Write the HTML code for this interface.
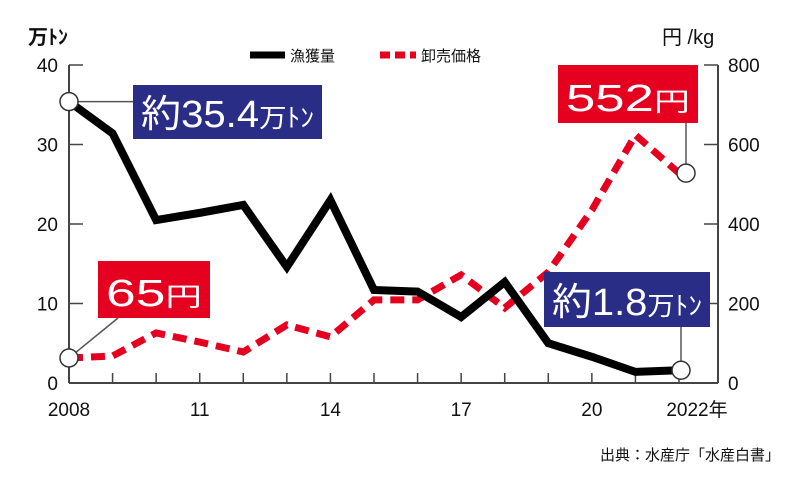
<!DOCTYPE html>
<html><head><meta charset="utf-8"><style>
body{margin:0;background:#fff;}
svg text{font-family:"Liberation Sans","Noto Sans CJK JP",sans-serif;}
</style></head><body>
<svg id="c" width="800" height="478" viewBox="0 0 800 478" xmlns="http://www.w3.org/2000/svg">
<g id="axes"></g>
<g id="marks"></g>
<g id="ann"></g>
</svg>
<script>
const years=[2008,2009,2010,2011,2012,2013,2014,2015,2016,2017,2018,2019,2020,2021,2022];
const catch10k=[35.4,31.4,20.5,21.4,22.4,14.6,23,11.7,11.5,8.3,12.7,5.0,3.3,1.4,1.6];
const price=[63,68,126,103,78,146,116,209,209,272,189,279,435,624,528];
const leftTicks=[0,10,20,30,40];
const rightTicks=[0,200,400,600,800];
const xTickLabels=[[2008,"2008"],[2011,"11"],[2014,"14"],[2017,"17"],[2020,"20"],[2022,"2022年"]];
const NS="http://www.w3.org/2000/svg";
const x0=69,x1=679,yb=383,yt=65;
const X=y=>x0+(y-2008)*(x1-x0)/14;
const YL=v=>yb-v*(yb-yt)/40;
const YR=v=>yb-v*(yb-yt)/800;
function mk(p,tag,at,txt){const e=document.createElementNS(NS,tag);for(const k in at)e.setAttribute(k,at[k]);if(txt!==undefined)e.textContent=txt;p.appendChild(e);return e;}
const A=document.getElementById('axes'),M=document.getElementById('marks'),N=document.getElementById('ann');
let e;
e=mk(A,'line',{x1:x0,y1:yt,x2:x0,y2:yb,stroke:'#444','stroke-width':2});


e=mk(A,'line',{x1:718,y1:yt,x2:718,y2:yb,stroke:'#444','stroke-width':2});


e=mk(A,'line',{x1:x0,y1:yb,x2:718,y2:yb,stroke:'#444','stroke-width':2});


leftTicks.forEach(t=>{mk(A,'line',{x1:x0,y1:YL(t),x2:x0+14,y2:YL(t),stroke:'#444','stroke-width':1.5});
 e=mk(A,'text',{x:58,y:YL(t)+7,'text-anchor':'end','font-size':19,fill:'#111'},String(t));
 
 });
rightTicks.forEach(t=>{mk(A,'line',{x1:704,y1:YR(t),x2:718,y2:YR(t),stroke:'#444','stroke-width':1.5});
 e=mk(A,'text',{x:728,y:YR(t)+7,'font-size':19,fill:'#111'},String(t));
 
 });
years.forEach(y=>mk(A,'line',{x1:X(y),y1:yb,x2:X(y),y2:yb-10,stroke:'#444','stroke-width':1.5}));
xTickLabels.forEach(([y,l])=>{e=mk(A,'text',{x:X(y)+(y==2022?18:0),y:416,'text-anchor':'middle','font-size':19,fill:'#111'},l);
 
 });
e=mk(M,'polyline',{points:years.map((y,i)=>X(y)+','+YR(price[i])).join(' '),fill:'none',stroke:'#e60020','stroke-width':7,'stroke-dasharray':'14 8'});


e=mk(M,'polyline',{points:years.map((y,i)=>X(y)+','+YL(catch10k[i])).join(' '),fill:'none',stroke:'#000','stroke-width':8,'stroke-linejoin':'miter'});


const n=years.length-1;
mk(N,'line',{x1:X(2008),y1:YL(catch10k[0]),x2:133,y2:YL(catch10k[0]),stroke:'#555','stroke-width':1.5});
mk(N,'line',{x1:X(2008),y1:YR(price[0]),x2:118,y2:318,stroke:'#555','stroke-width':1.5});
mk(N,'line',{x1:686,y1:YR(price[n]),x2:686,y2:123,stroke:'#555','stroke-width':1.5});
mk(N,'line',{x1:681,y1:YL(catch10k[n]),x2:681,y2:327,stroke:'#555','stroke-width':1.5});
[[X(2008),YL(catch10k[0]),'circle-start-catch'],[X(2008),YR(price[0]),'circle-start-price'],[686,YR(price[n]),'circle-end-price'],[681,YL(catch10k[n]),'circle-end-catch']].forEach(([cx,cy,nm])=>{
 e=mk(N,'circle',{cx:cx,cy:cy,r:9,fill:'#fff',stroke:'#333','stroke-width':1.5});
 
 });
function box(x,y,w,h,fill,main,unit,nm){
 const g=mk(N,'g',{});
 
 
 mk(g,'rect',{x:x,y:y,width:w,height:h,fill:fill});
 const t=mk(g,'text',{x:x+8,y:y+h-12,fill:'#fff','font-size':38,textLength:w-16,lengthAdjust:'spacingAndGlyphs'});
 mk(t,'tspan',{},main);
 if(unit){mk(t,'tspan',{'font-size':26},unit);}
}
box(133,85,189,54,'#2a2d86','約35.4','万ﾄﾝ','label-catch-2008');
box(558,65,140,58,'#e60020','552','円','label-price-2022');
box(98,261,112,57,'#e60020','65','円','label-price-2008');
box(544,272,166,55,'#2a2d86','約1.8','万ﾄﾝ','label-catch-2022');
e=mk(N,'line',{x1:250,y1:55,x2:285,y2:55,stroke:'#000','stroke-width':7});


e=mk(N,'text',{x:290,y:61,'font-size':15,fill:'#111'},'漁獲量');


e=mk(N,'line',{x1:380,y1:55,x2:416,y2:55,stroke:'#e60020','stroke-width':7,'stroke-dasharray':'10 5'});


e=mk(N,'text',{x:421,y:61,'font-size':15,fill:'#111'},'卸売価格');


e=mk(N,'text',{x:28,y:44,'font-size':20,'font-weight':'bold',fill:'#111'},'万ﾄﾝ');


e=mk(N,'text',{x:662,y:44,'font-size':20,fill:'#111'},'円 /kg');


e=mk(N,'text',{x:780,y:460,'text-anchor':'end','font-size':15,fill:'#111'},'出典：水産庁「水産白書」');


</script>
</body></html>
